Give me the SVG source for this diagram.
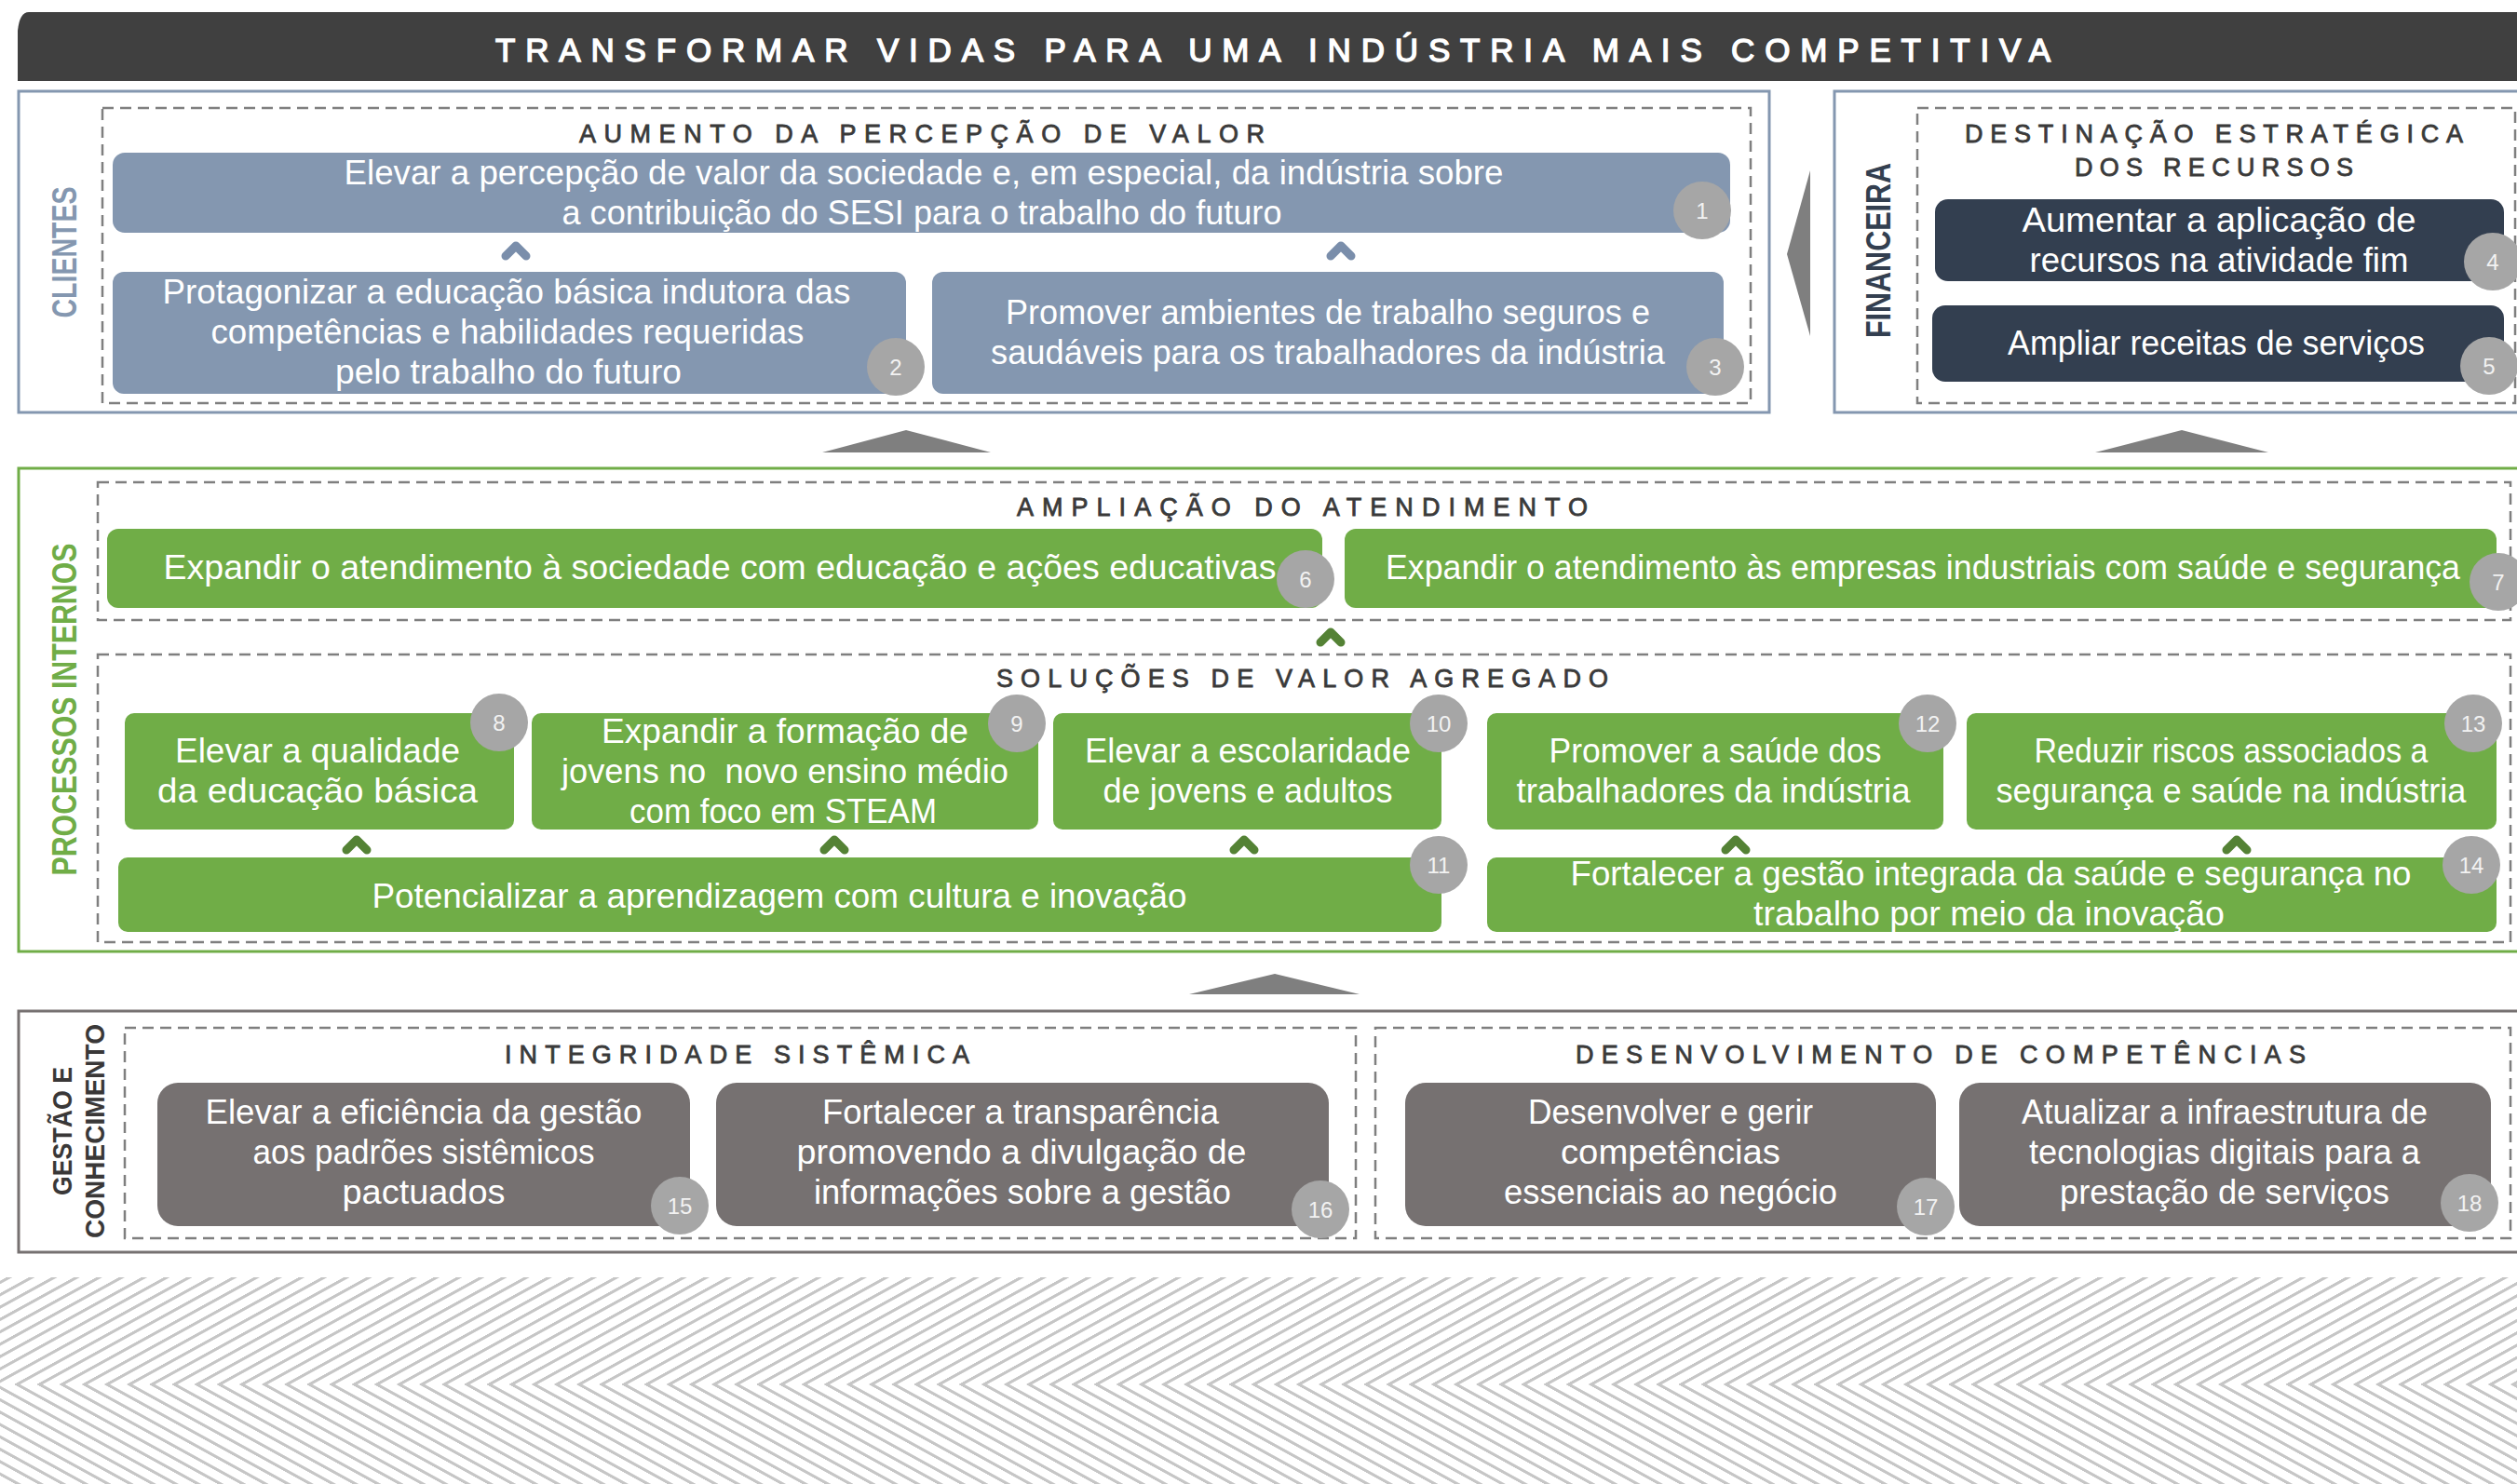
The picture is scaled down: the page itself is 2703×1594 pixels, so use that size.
<svg xmlns="http://www.w3.org/2000/svg" xmlns:xlink="http://www.w3.org/1999/xlink" width="2703" height="1594" viewBox="0 0 2703 1594">
  <defs>
    <style>
      .txt { font-family: "Liberation Sans", Arial, sans-serif; font-size: 36px; fill: #ffffff; text-anchor: middle; }
      .sec { font-family: "Liberation Sans", Arial, sans-serif; font-size: 27px; fill: #3a3a3a; stroke: #3a3a3a; stroke-width: 0.8; }
      .side { font-family: "Liberation Sans", Arial, sans-serif; font-weight: bold; text-anchor: middle; }
      .num { font-family: "Liberation Sans", Arial, sans-serif; font-size: 24px; fill: #f2f2f2; text-anchor: middle; }
      .badge { fill: #a6a6a6; }
      .dash { fill: none; stroke: #7f7f7f; stroke-width: 2.5; stroke-dasharray: 12 7; }
      .blue { fill: #8497b0; }
      .navy { fill: #333f50; }
      .green { fill: #70ad47; }
      .grey { fill: #767171; }
      .tri { fill: #7f7f7f; }
      .chev-b { fill: none; stroke: #7a8eab; stroke-width: 9; stroke-linecap: round; stroke-linejoin: round; }
      .chev-g { fill: none; stroke: #548235; stroke-width: 9; stroke-linecap: round; stroke-linejoin: round; }
    </style>
    <path id="chev" d="M-11,5 L0,-6 L11,5"/>
    <!-- herringbone texture: upper and lower halves skewed opposite ways -->
    <pattern id="hatchUp" width="24.15" height="40" patternUnits="userSpaceOnUse" patternTransform="translate(15.1 1487) skewX(-61.2)">
      <rect x="0" y="0" width="6.4" height="40" fill="#c6c6c6"/>
    </pattern>
    <pattern id="hatchDown" width="24.15" height="40" patternUnits="userSpaceOnUse" patternTransform="translate(15.1 1487) skewX(61.2)">
      <rect x="0" y="0" width="6.4" height="40" fill="#c6c6c6"/>
    </pattern>
  </defs>

  <rect width="2703" height="1594" fill="#ffffff"/>

  <!-- title banner -->
  <g id="banner">
    <path d="M19,87 L19,33 Q21,13 31,13 L2703,13 L2703,87 Z" fill="#404040"/>
    <text x="532" y="66" textLength="1670" lengthAdjust="spacing" style="font-family:'Liberation Sans',Arial,sans-serif;font-size:35px;fill:#ffffff;stroke:#ffffff;stroke-width:1.4">TRANSFORMAR VIDAS PARA UMA INDÚSTRIA MAIS COMPETITIVA</text>
  </g>

  <!-- perspective frames -->
  <g id="perspective-clientes">
    <rect x="20" y="98" width="1880" height="345" fill="none" stroke="#8497b0" stroke-width="3"/>
    <text class="side" transform="translate(82 271) rotate(-90)" font-size="37" fill="#8497b0" textLength="141" lengthAdjust="spacingAndGlyphs">CLIENTES</text>
  </g>
  <g id="perspective-financeira">
    <rect x="1970" y="98" width="760" height="345" fill="none" stroke="#8497b0" stroke-width="3"/>
    <text class="side" transform="translate(2030 269) rotate(-90)" font-size="37" fill="#333f50" textLength="188" lengthAdjust="spacingAndGlyphs">FINANCEIRA</text>
  </g>
  <g id="perspective-processos">
    <rect x="20" y="503" width="2710" height="519" fill="none" stroke="#70ad47" stroke-width="3"/>
    <text class="side" transform="translate(82 762) rotate(-90)" font-size="37" fill="#70ad47" textLength="357" lengthAdjust="spacingAndGlyphs">PROCESSOS INTERNOS</text>
  </g>
  <g id="perspective-gestao">
    <rect x="20" y="1086" width="2710" height="259" fill="none" stroke="#767171" stroke-width="3"/>
    <text class="side" transform="translate(77 1215) rotate(-90)" font-size="30" fill="#3a3838" textLength="138" lengthAdjust="spacingAndGlyphs">GESTÃO E</text>
    <text class="side" transform="translate(112 1215) rotate(-90)" font-size="30" fill="#3a3838" textLength="230" lengthAdjust="spacingAndGlyphs">CONHECIMENTO</text>
  </g>

  <!-- themes (dashed groups) -->
  <g id="tema-percepcao">
    <rect class="dash" x="110" y="116" width="1770" height="317"/>
    <text class="sec" x="622" y="153" textLength="736" lengthAdjust="spacing">AUMENTO DA PERCEPÇÃO DE VALOR</text>
  </g>
  <g id="tema-destinacao">
    <rect class="dash" x="2059" y="116" width="642" height="317"/>
    <text class="sec" x="2110" y="153" textLength="535" lengthAdjust="spacing">DESTINAÇÃO ESTRATÉGICA</text>
    <text class="sec" x="2228" y="189" textLength="299" lengthAdjust="spacing">DOS RECURSOS</text>
  </g>
  <g id="tema-ampliacao">
    <rect class="dash" x="105" y="518" width="2591" height="148"/>
    <text class="sec" x="1092" y="554" textLength="613" lengthAdjust="spacing">AMPLIAÇÃO DO ATENDIMENTO</text>
  </g>
  <g id="tema-solucoes">
    <rect class="dash" x="105" y="703" width="2591" height="309"/>
    <text class="sec" x="1070" y="738" textLength="657" lengthAdjust="spacing">SOLUÇÕES DE VALOR AGREGADO</text>
  </g>
  <g id="tema-integridade">
    <rect class="dash" x="134" y="1104" width="1322" height="226"/>
    <text class="sec" x="542" y="1142" textLength="499" lengthAdjust="spacing">INTEGRIDADE SISTÊMICA</text>
  </g>
  <g id="tema-competencias">
    <rect class="dash" x="1477" y="1104" width="1219" height="226"/>
    <text class="sec" x="1692" y="1142" textLength="784" lengthAdjust="spacing">DESENVOLVIMENTO DE COMPETÊNCIAS</text>
  </g>

  <!-- connectors: chevrons and flow triangles -->
  <g id="connectors">
    <use href="#chev" class="chev-b" x="554" y="270"/>
    <use href="#chev" class="chev-b" x="1440" y="270"/>
    <use href="#chev" class="chev-g" x="1429" y="685"/>
    <use href="#chev" class="chev-g" x="383" y="908"/>
    <use href="#chev" class="chev-g" x="896" y="908"/>
    <use href="#chev" class="chev-g" x="1336" y="908"/>
    <use href="#chev" class="chev-g" x="1864" y="908"/>
    <use href="#chev" class="chev-g" x="2402" y="908"/>
    <polygon class="tri" points="1944,183 1944,361 1919,273"/>
    <polygon class="tri" points="883,486 1064,486 973,462"/>
    <polygon class="tri" points="2250,486 2436,486 2343,462"/>
    <polygon class="tri" points="1277,1068 1460,1068 1369,1046"/>
  </g>

  <!-- objectives -->
  <g id="obj-1">
    <rect class="blue" x="121" y="164" width="1737" height="86" rx="13"/>
    <text class="txt" x="992" y="198" textLength="1245" lengthAdjust="spacingAndGlyphs">Elevar a percepção de valor da sociedade e, em especial, da indústria sobre</text>
    <text class="txt" x="990" y="241" textLength="773" lengthAdjust="spacingAndGlyphs">a contribuição do SESI para o trabalho do futuro</text>
    <circle class="badge" cx="1828" cy="226" r="31"/>
    <text class="num" x="1828" y="235">1</text>
  </g>
  <g id="obj-2">
    <rect class="blue" x="121" y="292" width="852" height="131" rx="12"/>
    <text class="txt" x="544" y="326" textLength="739" lengthAdjust="spacingAndGlyphs">Protagonizar a educação básica indutora das</text>
    <text class="txt" x="545" y="369" textLength="637" lengthAdjust="spacingAndGlyphs">competências e habilidades requeridas</text>
    <text class="txt" x="546" y="412" textLength="372" lengthAdjust="spacingAndGlyphs">pelo trabalho do futuro</text>
    <circle class="badge" cx="962" cy="394" r="31"/>
    <text class="num" x="962" y="403">2</text>
  </g>
  <g id="obj-3">
    <rect class="blue" x="1001" y="292" width="850" height="131" rx="12"/>
    <text class="txt" x="1426" y="348" textLength="692" lengthAdjust="spacingAndGlyphs">Promover ambientes de trabalho seguros e</text>
    <text class="txt" x="1426" y="391" textLength="724" lengthAdjust="spacingAndGlyphs">saudáveis para os trabalhadores da indústria</text>
    <circle class="badge" cx="1842" cy="394" r="31"/>
    <text class="num" x="1842" y="403">3</text>
  </g>
  <g id="obj-4">
    <rect class="navy" x="2078" y="214" width="611" height="88" rx="14"/>
    <text class="txt" x="2383" y="249" textLength="423" lengthAdjust="spacingAndGlyphs">Aumentar a aplicação de</text>
    <text class="txt" x="2383" y="292" textLength="407" lengthAdjust="spacingAndGlyphs">recursos na atividade fim</text>
    <circle class="badge" cx="2677" cy="281" r="31"/>
    <text class="num" x="2677" y="290">4</text>
  </g>
  <g id="obj-5">
    <rect class="navy" x="2075" y="328" width="614" height="82" rx="14"/>
    <text class="txt" x="2380" y="381" textLength="448" lengthAdjust="spacingAndGlyphs">Ampliar receitas de serviços</text>
    <circle class="badge" cx="2673" cy="393" r="31"/>
    <text class="num" x="2673" y="402">5</text>
  </g>
  <g id="obj-6">
    <rect class="green" x="115" y="568" width="1305" height="85" rx="12"/>
    <text class="txt" x="773" y="622" textLength="1195" lengthAdjust="spacingAndGlyphs">Expandir o atendimento à sociedade com educação e ações educativas</text>
    <circle class="badge" cx="1402" cy="622" r="31"/>
    <text class="num" x="1402" y="631">6</text>
  </g>
  <g id="obj-7">
    <rect class="green" x="1444" y="568" width="1237" height="85" rx="12"/>
    <text class="txt" x="2065" y="622" textLength="1154" lengthAdjust="spacingAndGlyphs">Expandir o atendimento às empresas industriais com saúde e segurança</text>
    <circle class="badge" cx="2683" cy="625" r="31"/>
    <text class="num" x="2683" y="634">7</text>
  </g>
  <g id="obj-8">
    <rect class="green" x="134" y="766" width="418" height="125" rx="10"/>
    <text class="txt" x="341" y="819" textLength="306" lengthAdjust="spacingAndGlyphs">Elevar a qualidade</text>
    <text class="txt" x="341" y="862" textLength="344" lengthAdjust="spacingAndGlyphs">da educação básica</text>
    <circle class="badge" cx="536" cy="776" r="31"/>
    <text class="num" x="536" y="785">8</text>
  </g>
  <g id="obj-9">
    <rect class="green" x="571" y="766" width="544" height="125" rx="10"/>
    <text class="txt" x="843" y="798" textLength="394" lengthAdjust="spacingAndGlyphs">Expandir a formação de</text>
    <text class="txt" x="843" y="841" textLength="480" lengthAdjust="spacingAndGlyphs" xml:space="preserve">jovens no  novo ensino médio</text>
    <text class="txt" x="841" y="884" textLength="330" lengthAdjust="spacingAndGlyphs">com foco em STEAM</text>
    <circle class="badge" cx="1092" cy="777" r="31"/>
    <text class="num" x="1092" y="786">9</text>
  </g>
  <g id="obj-10">
    <rect class="green" x="1131" y="766" width="417" height="125" rx="10"/>
    <text class="txt" x="1340" y="819" textLength="350" lengthAdjust="spacingAndGlyphs">Elevar a escolaridade</text>
    <text class="txt" x="1340" y="862" textLength="311" lengthAdjust="spacingAndGlyphs">de jovens e adultos</text>
    <circle class="badge" cx="1545" cy="777" r="31"/>
    <text class="num" x="1545" y="786">10</text>
  </g>
  <g id="obj-11">
    <rect class="green" x="127" y="921" width="1421" height="80" rx="10"/>
    <text class="txt" x="837" y="975" textLength="875" lengthAdjust="spacingAndGlyphs">Potencializar a aprendizagem com cultura e inovação</text>
    <circle class="badge" cx="1545" cy="929" r="31"/>
    <text class="num" x="1545" y="938">11</text>
  </g>
  <g id="obj-12">
    <rect class="green" x="1597" y="766" width="490" height="125" rx="10"/>
    <text class="txt" x="1842" y="819" textLength="357" lengthAdjust="spacingAndGlyphs">Promover a saúde dos</text>
    <text class="txt" x="1840" y="862" textLength="423" lengthAdjust="spacingAndGlyphs">trabalhadores da indústria</text>
    <circle class="badge" cx="2070" cy="777" r="31"/>
    <text class="num" x="2070" y="786">12</text>
  </g>
  <g id="obj-13">
    <rect class="green" x="2112" y="766" width="569" height="125" rx="10"/>
    <text class="txt" x="2396" y="819" textLength="423" lengthAdjust="spacingAndGlyphs">Reduzir riscos associados a</text>
    <text class="txt" x="2396" y="862" textLength="505" lengthAdjust="spacingAndGlyphs">segurança e saúde na indústria</text>
    <circle class="badge" cx="2656" cy="777" r="31"/>
    <text class="num" x="2656" y="786">13</text>
  </g>
  <g id="obj-14">
    <rect class="green" x="1597" y="921" width="1084" height="80" rx="10"/>
    <text class="txt" x="2138" y="951" textLength="903" lengthAdjust="spacingAndGlyphs">Fortalecer a gestão integrada da saúde e segurança no</text>
    <text class="txt" x="2136" y="994" textLength="506" lengthAdjust="spacingAndGlyphs">trabalho por meio da inovação</text>
    <circle class="badge" cx="2654" cy="929" r="31"/>
    <text class="num" x="2654" y="938">14</text>
  </g>
  <g id="obj-15">
    <rect class="grey" x="169" y="1163" width="572" height="154" rx="22"/>
    <text class="txt" x="455" y="1207" textLength="469" lengthAdjust="spacingAndGlyphs">Elevar a eficiência da gestão</text>
    <text class="txt" x="455" y="1250" textLength="367" lengthAdjust="spacingAndGlyphs">aos padrões sistêmicos</text>
    <text class="txt" x="455" y="1293" textLength="175" lengthAdjust="spacingAndGlyphs">pactuados</text>
    <circle class="badge" cx="730" cy="1295" r="31"/>
    <text class="num" x="730" y="1304">15</text>
  </g>
  <g id="obj-16">
    <rect class="grey" x="769" y="1163" width="658" height="154" rx="22"/>
    <text class="txt" x="1096" y="1207" textLength="426" lengthAdjust="spacingAndGlyphs">Fortalecer a transparência</text>
    <text class="txt" x="1097" y="1250" textLength="483" lengthAdjust="spacingAndGlyphs">promovendo a divulgação de</text>
    <text class="txt" x="1098" y="1293" textLength="448" lengthAdjust="spacingAndGlyphs">informações sobre a gestão</text>
    <circle class="badge" cx="1418" cy="1299" r="31"/>
    <text class="num" x="1418" y="1308">16</text>
  </g>
  <g id="obj-17">
    <rect class="grey" x="1509" y="1163" width="570" height="154" rx="22"/>
    <text class="txt" x="1794" y="1207" textLength="306" lengthAdjust="spacingAndGlyphs">Desenvolver e gerir</text>
    <text class="txt" x="1794" y="1250" textLength="236" lengthAdjust="spacingAndGlyphs">competências</text>
    <text class="txt" x="1794" y="1293" textLength="358" lengthAdjust="spacingAndGlyphs">essenciais ao negócio</text>
    <circle class="badge" cx="2068" cy="1296" r="31"/>
    <text class="num" x="2068" y="1305">17</text>
  </g>
  <g id="obj-18">
    <rect class="grey" x="2104" y="1163" width="571" height="154" rx="22"/>
    <text class="txt" x="2389" y="1207" textLength="436" lengthAdjust="spacingAndGlyphs">Atualizar a infraestrutura de</text>
    <text class="txt" x="2389" y="1250" textLength="420" lengthAdjust="spacingAndGlyphs">tecnologias digitais para a</text>
    <text class="txt" x="2389" y="1293" textLength="354" lengthAdjust="spacingAndGlyphs">prestação de serviços</text>
    <circle class="badge" cx="2652" cy="1292" r="31"/>
    <text class="num" x="2652" y="1301">18</text>
  </g>

  <!-- herringbone band along the bottom -->
  <g id="texture">
    <rect x="0" y="1372" width="2703" height="115" fill="url(#hatchUp)"/>
    <rect x="0" y="1487" width="2703" height="107" fill="url(#hatchDown)"/>
  </g>
</svg>
